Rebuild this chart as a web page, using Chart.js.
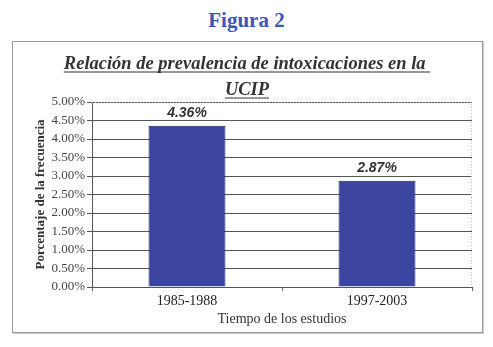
<!DOCTYPE html>
<html>
<head>
<meta charset="utf-8">
<script src="https://cdn.jsdelivr.net/npm/chart.js@4"></script>
<style>
  body { margin: 0; background: #fff; width: 493px; height: 347px; position: relative; overflow: hidden; }
  #fig { position: absolute; left: 0; top: 8px; width: 493px; text-align: center;
         font: bold 21px "Liberation Serif", serif; color: #3a56b8; }
  #box { position: absolute; left: 12px; top: 41px; width: 469px; height: 290px;
         border: 1px solid #9a9a9a; box-shadow: 1px 1px 0 #ccc; }
</style>
</head>
<body>
<div id="fig">Figura 2</div>
<div id="box"><canvas id="chart" width="469" height="290"></canvas></div>
<script>
const periods = ["1985-1988", "1997-2003"];
const prevalence = [4.36, 2.87];
const titleLines = ["Relación de prevalencia de intoxicaciones en la ", "UCIP"];

// chart title (underlined) + data labels + dotted plot border
const extras = {
  id: "extras",
  afterDraw(chart) {
    const c = chart.ctx;
    const area = chart.chartArea;
    c.save();
    c.fillStyle = "#333";
    c.strokeStyle = "#333";
    c.font = "italic bold 18.5px 'Liberation Serif'";
    c.textAlign = "center";
    c.textBaseline = "alphabetic";
    const cx = 234;
    const ys = [27, 53];
    titleLines.forEach((t, i) => {
      c.fillText(t, cx, ys[i]);
      const w = c.measureText(t).width;
      c.lineWidth = 1.2;
      c.beginPath();
      c.moveTo(cx - w / 2, ys[i] + 3);
      c.lineTo(cx + w / 2, ys[i] + 3);
      c.stroke();
    });

    // dotted border top / right
    c.strokeStyle = "#bbb";
    c.lineWidth = 1;
    c.setLineDash([1, 2]);
    c.beginPath();
    c.moveTo(area.left, area.top + 0.5);
    c.lineTo(area.right - 0.5, area.top + 0.5);
    c.lineTo(area.right - 0.5, area.bottom);
    c.stroke();
    c.setLineDash([]);

    // value labels
    c.font = "italic bold 14px 'Liberation Sans'";
    c.fillStyle = "#333";
    c.textBaseline = "bottom";
    const meta = chart.getDatasetMeta(0);
    meta.data.forEach((bar, i) => {
      c.fillText(prevalence[i].toFixed(2) + "%", bar.x, bar.y - 6);
    });
    c.restore();
  }
};

new Chart(document.getElementById("chart").getContext("2d"), {
  type: "bar",
  data: {
    labels: periods,
    datasets: [
      {
        data: prevalence,
        backgroundColor: "#3b45a0",
        borderColor: "#1c1f55",
        borderWidth: 1,
        barPercentage: 0.405,
        categoryPercentage: 1,
      },
    ],
  },
  options: {
    responsive: false,
    animation: false,
    layout: { padding: { top: 60, right: 10, left: 16, bottom: 0 } },
    scales: {
      x: {
        afterFit: (s) => { s.height = 45; },
        grid: { offset: true, drawOnChartArea: false, tickLength: 4, color: "#666" },
        border: { color: "#555", width: 1 },
        ticks: { color: "#222", font: { family: "Liberation Serif", size: 14 }, padding: 2 },
        title: {
          display: true,
          text: "Tiempo de los estudios",
          color: "#333",
          font: { family: "Liberation Serif", size: 14 },
          padding: { top: 0 },
        },
      },
      y: {
        min: 0,
        max: 5,
        afterFit: (s) => { s.width = 63; },
        grid: { color: "#555", tickLength: 5, lineWidth: 1 },
        border: { color: "#555" },
        ticks: {
          stepSize: 0.5,
          autoSkip: false,
          color: "#444",
          padding: 2,
          font: { family: "Liberation Serif", size: 13 },
          callback: (v) => v.toFixed(2) + "%",
        },
        title: {
          display: true,
          text: "Porcentaje de la frecuencia",
          color: "#333",
          font: { family: "Liberation Serif", size: 13, weight: "bold" },
          padding: { bottom: 2 },
        },
      },
    },
    plugins: {
      legend: { display: false },
      tooltip: { enabled: false },
    },
  },
  plugins: [extras],
});
</script>
</body>
</html>
